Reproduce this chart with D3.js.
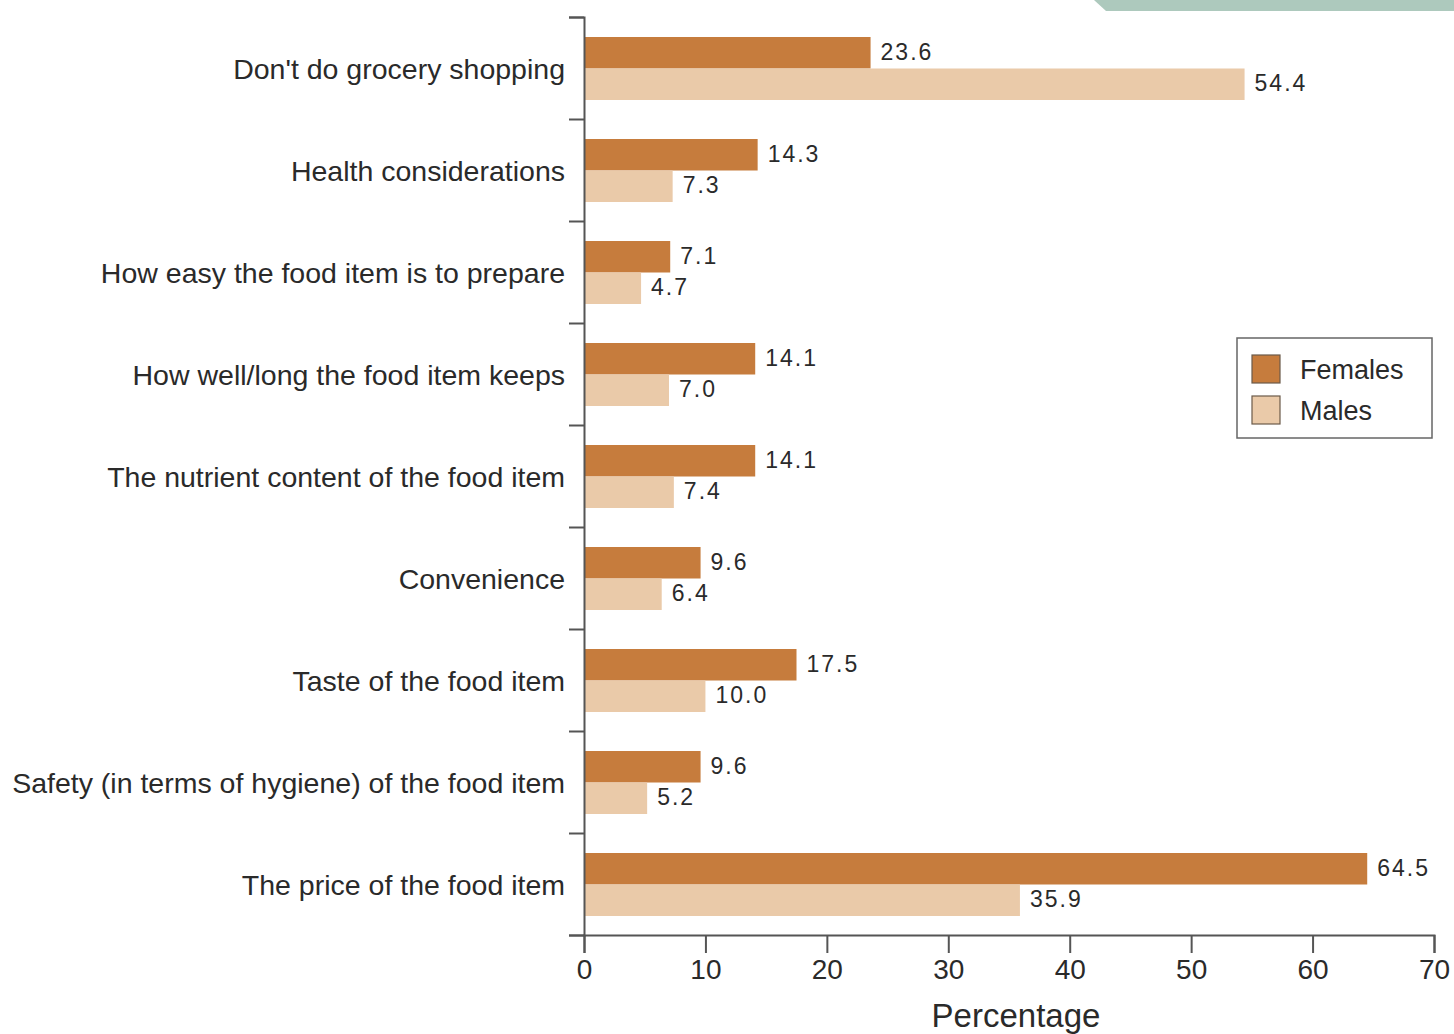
<!DOCTYPE html>
<html>
<head>
<meta charset="utf-8">
<script src="https://cdn.jsdelivr.net/npm/d3@7"></script>
<style>
  body { margin: 0; background: #fff; }
  svg text { font-family: "Liberation Sans", Arial, Helvetica, sans-serif; fill: #2a2a2a; }
</style>
</head>
<body>
<div id="chart"></div>
<script>
const width = 1454;
const height = 1034;

// Data
const categories = [
  "Don't do grocery shopping",
  "Health considerations",
  "How easy the food item is to prepare",
  "How well/long the food item keeps",
  "The nutrient content of the food item",
  "Convenience",
  "Taste of the food item",
  "Safety (in terms of hygiene) of the food item",
  "The price of the food item"
];
const series = ["Females", "Males"];
const females = [23.6, 14.3, 7.1, 14.1, 14.1, 9.6, 17.5, 9.6, 64.5];
const males = [54.4, 7.3, 4.7, 7.0, 7.4, 6.4, 10.0, 5.2, 35.9];
const xTicks = [0, 10, 20, 30, 40, 50, 60, 70];

const colors = { Females: "#c67c3d", Males: "#eacaa9" };
const rows = categories.map((c, i) => ({ cat: c, Females: females[i], Males: males[i] }));

const svg = d3.select("#chart").append("svg").attr("width", width).attr("height", height);

// decorative strip in top right corner
svg.append("polygon").attr("points", "1094,0 1454,0 1454,11 1106,11").attr("fill", "#adc9bd");

const x = d3.scaleLinear().domain([0, 70]).range([584, 1434]);
const y = d3.scaleBand().domain(categories).range([17, 935]);
const yInner = d3.scaleBand().domain(series).range([20, 83]);
const yEdges = d3.scaleLinear().domain([0, categories.length]).range([17, 935]);

// Bars
const groups = svg.append("g").selectAll("g").data(rows).join("g")
  .attr("transform", d => `translate(0,${y(d.cat)})`);

groups.selectAll("rect").data(d => series.map(s => ({ s, v: d[s] }))).join("rect")
  .attr("x", x(0))
  .attr("y", d => yInner(d.s))
  .attr("width", d => x(d.v) - x(0))
  .attr("height", yInner.bandwidth())
  .attr("fill", d => colors[d.s]);

groups.selectAll("text.val").data(d => series.map(s => ({ s, v: d[s] }))).join("text")
  .attr("class", "val")
  .attr("x", d => x(d.v) + 10)
  .attr("y", d => yInner(d.s) + yInner.bandwidth() / 2 - 1)
  .attr("dominant-baseline", "central")
  .style("font-size", "23px")
  .style("letter-spacing", "2px")
  .text(d => d.v.toFixed(1));

// Category labels
svg.append("g").selectAll("text").data(categories).join("text")
  .attr("x", 565)
  .attr("y", d => y(d) + y.bandwidth() / 2 + 1)
  .attr("text-anchor", "end")
  .attr("dominant-baseline", "central")
  .style("font-size", "28.5px")
  .text(d => d);

// Y axis with ticks at band edges
svg.append("g").attr("transform", `translate(${x(0)},0)`)
  .call(d3.axisLeft(yEdges).tickValues(d3.range(categories.length + 1)).tickFormat("").tickSize(15));

// X axis
const xAxis = svg.append("g").attr("transform", "translate(0,935)")
  .call(d3.axisBottom(x).tickValues(xTicks).tickSize(18).tickPadding(6));
xAxis.selectAll(".tick text").style("font-size", "28px").attr("fill", "#2a2a2a");

svg.selectAll(".domain, .tick line").attr("stroke", "#555").attr("stroke-width", 2);

svg.append("text")
  .attr("x", 1016).attr("y", 1027)
  .attr("text-anchor", "middle")
  .style("font-size", "33px")
  .text("Percentage");

// Legend
const legend = svg.append("g").attr("transform", "translate(1237,338)");
legend.append("rect").attr("width", 195).attr("height", 100)
  .attr("fill", "#fff").attr("stroke", "#666").attr("stroke-width", 1.5);
const items = legend.selectAll("g").data(series).join("g")
  .attr("transform", (d, i) => `translate(15,${17 + i * 41})`);
items.append("rect").attr("width", 28).attr("height", 28)
  .attr("fill", d => colors[d]).attr("stroke", "#6b5a4a").attr("stroke-width", 1.2);
items.append("text").attr("x", 48).attr("y", 15)
  .attr("dominant-baseline", "central")
  .style("font-size", "27px")
  .text(d => d);
</script>
</body>
</html>
